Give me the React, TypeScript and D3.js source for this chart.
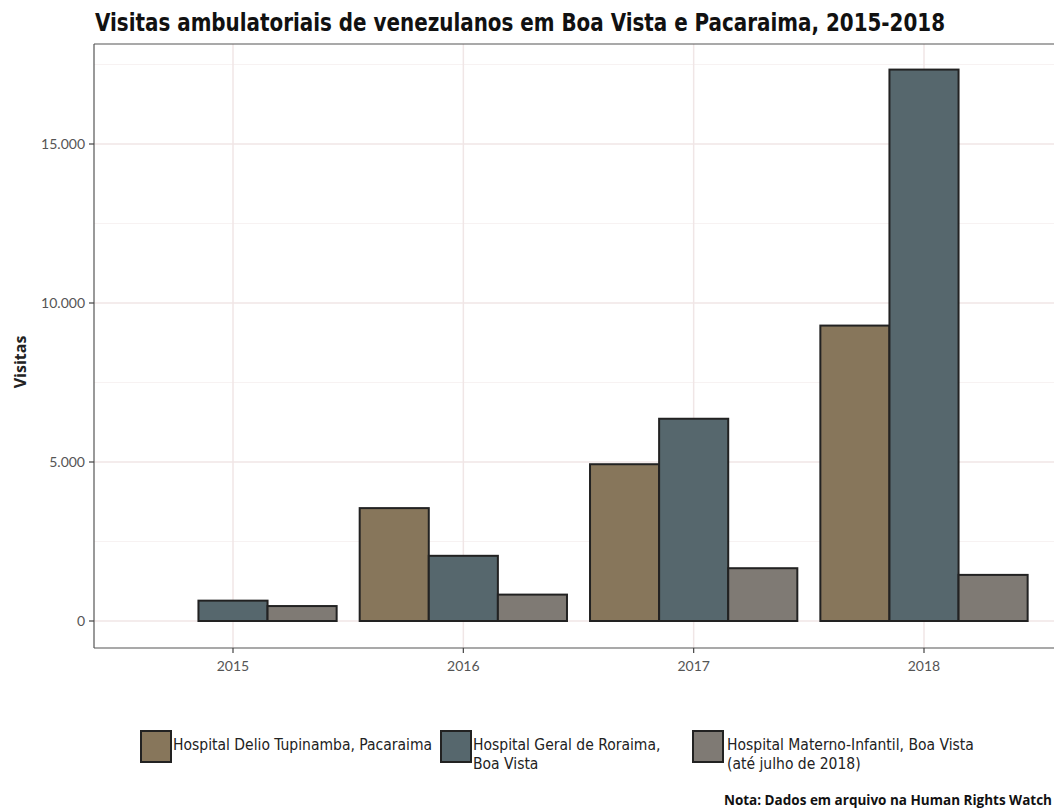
import React from "react";
import * as d3 from "d3";

const years = ["2015", "2016", "2017", "2018"];
const seriesNames = ["Delio", "Geral", "Materno"];
const delioValues = [0, 3550, 4930, 9290];
const geralValues = [640, 2050, 6360, 17340];
const maternoValues = [470, 830, 1660, 1450];
const colors = ["#87765b", "#56676d", "#7f7a74"];
const legendLabels = [
  ["Hospital Delio Tupinamba, Pacaraima"],
  ["Hospital Geral de Roraima,", "Boa Vista"],
  ["Hospital Materno-Infantil, Boa Vista", "(até julho de 2018)"],
];
const yTicks = [0, 5000, 10000, 15000];
const yMinor = [2500, 7500, 12500, 17500];

const W = 1054;
const H = 811;
const left = 94;
const top = 44;
const bottom = 648;

export default function App() {
  const values = [delioValues, geralValues, maternoValues];
  const x = d3.scalePoint().domain(years).range([233, 924]);
  const step = x.step();
  const xPoint = (yr: string) => x(yr) as number;
  const right = 924 + 0.6 * step;
  const sub = d3.scaleBand().domain(seriesNames).range([0, 0.9 * step]);
  const y = d3.scaleLinear().domain([0, 5000]).range([621, 462]);
  const fmt = (v: number) => d3.format(",")(v).replace(/,/g, ".");
  const cond = "'Liberation Sans Narrow', 'DejaVu Sans Condensed', 'Open Sans', sans-serif";
  const tickFont = "Lato, 'Open Sans', sans-serif";

  const legendX = [141, 441, 693];
  return (
    <svg width={W} height={H} style={{ position: "absolute", left: 0, top: 0, background: "#fff" }}>
      <rect x={0} y={0} width={W} height={H} fill="#fff" />
      <text x={95} y={31} fontFamily={cond} fontWeight="bold" fontSize={24} fill="#111" textLength={850} lengthAdjust="spacingAndGlyphs">
        Visitas ambulatoriais de venezulanos em Boa Vista e Pacaraima, 2015-2018
      </text>
      <clipPath id="pc"><rect x={left} y={top} width={W - left} height={bottom - top} /></clipPath>
      <g clipPath="url(#pc)">
        {yMinor.map((v) => (
          <line key={"mn" + v} x1={left} x2={right} y1={y(v)} y2={y(v)} stroke="#f7f2f2" strokeWidth={1} />
        ))}
        {yTicks.map((v) => (
          <line key={"mj" + v} x1={left} x2={right} y1={y(v)} y2={y(v)} stroke="#f0e6e6" strokeWidth={1.5} />
        ))}
        {years.map((yr) => (
          <line key={"vg" + yr} x1={xPoint(yr)} x2={xPoint(yr)} y1={top} y2={bottom} stroke="#f0e6e6" strokeWidth={1.5} />
        ))}
        {years.map((yr, i) =>
          seriesNames.map((s, j) => {
            const v = values[j][i];
            if (!v) return null;
            const x0 = xPoint(yr) - 0.45 * step + (sub(s) as number);
            return (
              <rect key={yr + s} x={x0} y={y(v)} width={sub.bandwidth()} height={y(0) - y(v)}
                fill={colors[j]} stroke="#222" strokeWidth={2} />
            );
          })
        )}
      </g>
      <line x1={left} x2={W} y1={top} y2={top} stroke="#555" strokeWidth={1.2} />
      <line x1={left} x2={W} y1={bottom} y2={bottom} stroke="#555" strokeWidth={1.2} />
      <line x1={left} x2={left} y1={top} y2={bottom} stroke="#555" strokeWidth={1.2} />
      {yTicks.map((v) => (
        <g key={"yt" + v}>
          <line x1={left - 5} x2={left} y1={y(v)} y2={y(v)} stroke="#444" strokeWidth={1.2} />
          <text x={left - 9} y={y(v)} dy="0.35em" textAnchor="end" fontFamily={tickFont} fontSize={14} fill="#555">
            {fmt(v)}
          </text>
        </g>
      ))}
      {years.map((yr) => (
        <g key={"xt" + yr}>
          <line x1={xPoint(yr)} x2={xPoint(yr)} y1={bottom} y2={bottom + 5} stroke="#444" strokeWidth={1.2} />
          <text x={xPoint(yr)} y={bottom + 23} textAnchor="middle" fontFamily={tickFont} fontSize={14} fill="#555">
            {yr}
          </text>
        </g>
      ))}
      <text transform={`translate(26, 362) rotate(-90)`} textAnchor="middle" fontFamily="'Open Sans', sans-serif" fontWeight="bold" fontSize={16} fill="#222">
        Visitas
      </text>
      {legendLabels.map((lines, i) => (
        <g key={"lg" + i}>
          <rect x={legendX[i]} y={731} width={30} height={31} fill={colors[i]} stroke="#222" strokeWidth={2} />
          <text fontFamily={cond} fontSize={15.5} fill="#222">
            {lines.map((ln, k) => (
              <tspan key={k} x={legendX[i] + (i === 2 ? 34 : 32)} y={750 + k * 19}>{ln}</tspan>
            ))}
          </text>
        </g>
      ))}
      <text x={1052} y={805} textAnchor="end" fontFamily="'Open Sans', sans-serif" fontWeight="bold" fontSize={13.5} fill="#111">
        Nota: Dados em arquivo na Human Rights Watch
      </text>
    </svg>
  );
}
